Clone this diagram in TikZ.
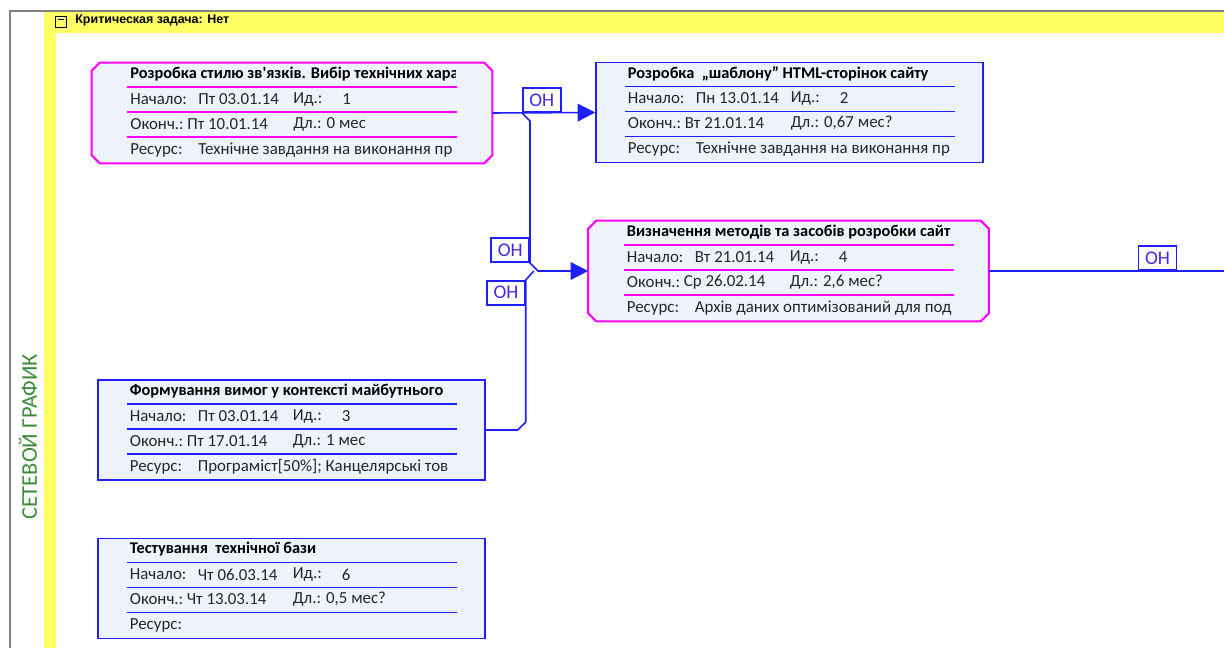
\documentclass[tikz,border=0pt]{standalone}
\usepackage{fontspec}
\setmainfont{Carlito}[Ligatures=TeXOff]
\newfontfamily\headfont{Liberation Sans}
\usetikzlibrary{arrows.meta, positioning, calc}

\definecolor{crit}{RGB}{255,0,255}
\definecolor{task}{RGB}{30,30,255}
\definecolor{cardfill}{RGB}{238,242,250}
\definecolor{band}{RGB}{255,255,100}
\definecolor{framegray}{RGB}{128,128,128}
\definecolor{viewgreen}{RGB}{60,140,60}
\definecolor{lagtext}{RGB}{70,40,230}

\tikzset{
    base/.style={inner sep=0pt, minimum height=2cm, fill=cardfill},
    critbox/.style={base, fill=none, minimum width=8cm,
        append after command={\pgfextra{\let\cardnode\tikzlastnode
            \draw [draw=crit, fill=cardfill, line width=1.2pt]
            ($(\cardnode.north west)+(8,0)$) -- ($(\cardnode.north east)+(-8,0)$)
            -- ($(\cardnode.north east)+(0,8)$) -- ($(\cardnode.south east)+(0,-8)$)
            -- ($(\cardnode.south east)+(-8,0)$) -- ($(\cardnode.south west)+(8,0)$)
            -- ($(\cardnode.south west)+(0,-8)$) -- ($(\cardnode.north west)+(0,8)$) -- cycle;}}},
    taskbox/.style={base, draw=task, line width=0.9pt, rectangle, minimum width=7.74cm},
    rowline/.style={line width=0.9pt},
    row/.style={anchor=west, inner sep=0pt, font=\fontsize{9.6}{11}\selectfont, text=black!85},
    rowhead/.style={row, font=\fontsize{9.3}{11}\selectfont\bfseries, text=black},
    lag/.style={draw=task, fill=white, line width=0.9pt, minimum width=0.76cm, minimum height=0.48cm, inner sep=0pt, text=lagtext, font=\fontsize{11}{12}\selectfont},
    arrow/.style={draw=task, line width=0.9pt, -{Triangle[length=10pt, width=10pt]}},
    link/.style={draw=task, line width=0.9pt}
}

% card: name, kind (crit/task), centre, title, start, id, finish, duration, resource
\newcommand{\taskcard}[9]{%
    \node (#1) [#2box] at #3 {};
    \draw [rowline, draw=#2] ($(#1)+(-165,-26)$) -- ++(330,0);
    \draw [rowline, draw=#2] ($(#1)+(-165,-1)$) -- ++(330,0);
    \draw [rowline, draw=#2] ($(#1)+(-165,24)$) -- ++(330,0);
    \begin{scope}
        \clip ($(#1)+(-165,-50)$) rectangle ($(#1)+(163,50)$);
        \node (#1-name) [rowhead] at ($(#1)+(-162,-39)$) {#4};
        \node (#1-s) [row] at ($(#1)+(-162,-14)$) {Начало:};
        \node (#1-sv) [row] at ($(#1)+(-94,-14)$) {#5};
        \node (#1-i) [row] at ($(#1)+(1,-14)$) {Ид.:};
        \node (#1-iv) [row] at ($(#1)+(50,-14)$) {#6};
        \node (#1-f) [row] at ($(#1)+(-162,11)$) {Оконч.:};
        \node (#1-fv) [row] at ($(#1)+(-105,11)$) {#7};
        \node (#1-d) [row] at ($(#1)+(1,11)$) {Дл.: #8};
        \node (#1-r) [row] at ($(#1)+(-162,37)$) {Ресурс:};
        \node (#1-rv) [row] at ($(#1)+(-94,37)$) {#9};
    \end{scope}
}

\begin{document}
\begin{tikzpicture}[x=0.02cm, y=-0.02cm]
    \useasboundingbox (0,0) rectangle (1224,648);
    \fill [white] (0,0) rectangle (1224,648);

    % Frame
    \fill [band] (44,12) rectangle (1224,33);
    \fill [band] (44,12) rectangle (56,648);
    \draw [framegray, line width=1.7pt] (10,648) -- (10,11) -- (1224,11);
    \node (toggle) [draw=black, line width=0.5pt, minimum size=0.22cm, inner sep=0pt] at (61,22) {\rule[0.5ex]{0.12cm}{0.5pt}};
    \node (critflag) [anchor=west, inner sep=0pt, font=\headfont\bfseries\fontsize{7.1}{8}\selectfont] at (75,21) {Критическая задача: Нет};
    \node (view) [rotate=90, inner sep=0pt, text=viewgreen, font=\fontsize{12.8}{14}\selectfont] at (28,437) {СЕТЕВОЙ ГРАФИК};

    % Nodes
    \taskcard{t1}{crit}{(292,113)}{Розробка стилю зв'язків. Вибір технічних хара}{Пт 03.01.14}{1}{Пт 10.01.14}{0 мес}{Технічне завдання на виконання пр}
    \taskcard{t2}{task}{(789.5,112.5)}{Розробка \ „шаблону” HTML-сторінок сайту}{Пн 13.01.14}{2}{Вт 21.01.14}{0,67 мес?}{Технічне завдання на виконання пр}
    \taskcard{t4}{crit}{(788.5,271)}{Визначення методів та засобів розробки сайт}{Вт 21.01.14}{4}{Ср 26.02.14}{2,6 мес?}{Архів даних оптимізований для под}
    \taskcard{t3}{task}{(291.5,430)}{Формування вимог у контексті майбутнього}{Пт 03.01.14}{3}{Пт 17.01.14}{1 мес}{Програміст[50\%]; Канцелярські тов}
    \taskcard{t6}{task}{(291.5,588.5)}{Тестування \ технічної бази}{Чт 06.03.14}{6}{Чт 13.03.14}{0,5 мес?}{}

    % Arrows
    \coordinate (split) at (522,113);
    \coordinate (next) at (1224,271);
    \draw [arrow] (t1.east) -- (t2.west);
    \draw [arrow] (split) -- ++(8,8) -- ($(split |- t4.west)+(8,-8)$) -- ($(split |- t4.west)+(16,0)$) -- (t4.west);
    \draw [link] (t3.east) -- ++(32,0) -- ++(8,-8) -- ($(t4.west -| t3.east)+(40,9)$) -- ($(t4.west -| t3.east)+(48,0)$);
    \draw [link] (t4.east) -- (next);

    % Lag labels
    \node (lag12) [lag, anchor=south west] at (split) {ОН};
    \node (lag14) [lag, anchor=south east] at ($(split |- t4.west)+(8,-8)$) {ОН};
    \node (lag34) [lag, anchor=north east] at ($(t4.west -| t3.east)+(40,9)$) {ОН};
    \node (lag4x) [lag, anchor=south west] at ($(t4.east)+(149,0)$) {ОН};
\end{tikzpicture}
\end{document}
